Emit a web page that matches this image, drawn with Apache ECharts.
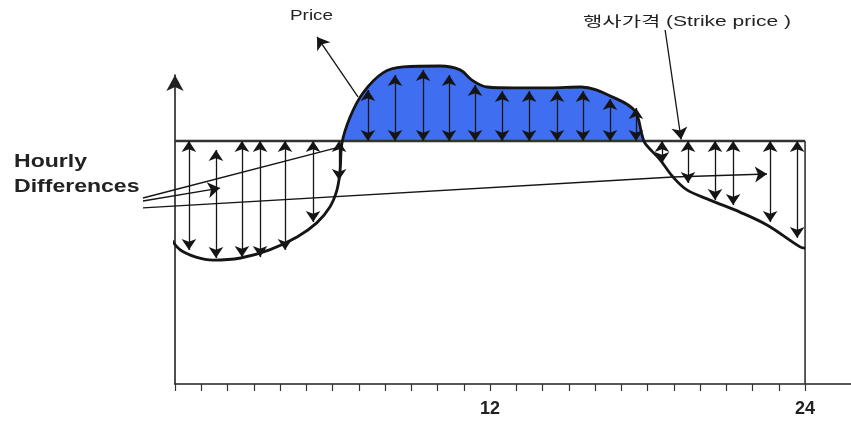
<!DOCTYPE html>
<html><head><meta charset="utf-8">
<script src="https://cdn.jsdelivr.net/npm/echarts@6/dist/echarts.min.js"></script>
<style>html,body{margin:0;padding:0;background:#fff}#c{width:851px;height:424px}</style>
</head><body><div id="c"></div>
<script>
// ---- data (hours on x, price level on y) ----
const hours = [-0.2, 0.2, 0.8, 1.45, 2.5, 3.6, 4.65, 5.4, 5.9, 6.17, 6.29, 6.36, 6.67, 7.16, 7.92, 8.69, 10.1, 10.86, 11.31, 11.89, 12.9, 14.3, 15.47, 16.76, 17.52, 17.79, 17.9, 18.48, 18.97, 19.5, 20.38, 21.52, 22.55, 23.81, 24];
const price = [49, 44.7, 42.3, 41.3, 42, 44.7, 49, 53.7, 59, 64.7, 71.3, 80.3, 89, 97, 103.7, 105.7, 106, 104.7, 101.3, 99, 98.7, 98.7, 99, 95.3, 91, 83, 80.3, 74.7, 69, 64.7, 61.3, 57.3, 53, 45.7, 45.3];
const strike = 81;
const tickHours = [0,1,2,3,4,5,6,7,8,9,10,11,12,13,14,15,16,17,18,19,20,21,22,23,24];
const labelHours = [12, 24];
// hourly difference arrows
const arrowHours = [0.53,1.56,2.55,3.24,4.19,5.26,6.25, 7.35,8.38,9.45,10.44,11.43,12.46,13.49,14.55,15.54,16.57,17.56, 18.55,19.54,20.57,21.26,22.67,23.7];
const arrowFrom  = [81,78,81,81,81,81,81, 81,81,81,81,81,81,81,81,81,81,81, 81,81,81,81,81,81];
const arrowTo    = [44.7,42,42.3,42.3,44.7,54,68, 98,103,104.7,103,99.7,97.7,97.7,97.7,97.7,95,92, 73.7,67,61.3,59.7,54,48.7];
// annotation pointers (data coordinates)
const pricePointer  = [[6.97, 95.7], [5.41, 115.7]];
const strikePointer = [[18.67, 118], [19.28, 81.5]];
const hourlyLine1 = [[-1.22, 61], [1.71, 65.3]];
const hourlyLine2 = [[-1.22, 62], [6.4, 79.3]];
const hourlyLine3a = [[-1.22, 58.7], [18.97, 69]];
const hourlyLine3b = [[18.97, 69], [22.55, 70]];

const pricePts = hours.map((h, i) => [h, price[i]]);
const abovePts = pricePts.filter(p => p[0] >= 6.36 && p[0] <= 17.9);
const arrowData = arrowHours.map((h, i) => ({coords: [[h, arrowFrom[i]], [h, arrowTo[i]]]}));

const ink = '#151515';
const chart = echarts.init(document.getElementById('c'), null, {renderer: 'canvas'});
const FONT = "'Liberation Sans', Arial, 'Noto Sans CJK KR', sans-serif";

chart.setOption({
  animation: false,
  backgroundColor: '#fff',
  grid: {left: 175, right: 0, top: 75, bottom: 40, outerBoundsMode: 'none'},
  xAxis: {
    type: 'value', min: 0, max: 25.75,
    splitLine: {show: false},
    axisLine: {show: true, lineStyle: {color: '#222', width: 1.6}},
    axisTick: {show: true, customValues: tickHours, length: 7, inside: false, lineStyle: {color: '#333', width: 1.2}},
    axisLabel: {show: true, customValues: labelHours, margin: 16, fontSize: 18, fontWeight: 'bold', color: '#222', fontFamily: FONT}
  },
  yAxis: {
    type: 'value', min: 0, max: 103,
    splitLine: {show: false},
    axisTick: {show: false},
    axisLabel: {show: false},
    axisLine: {show: true, symbol: ['none', 'arrow'], symbolSize: [13, 16], lineStyle: {color: '#222', width: 1.6}}
  },
  series: [
    {
      type: 'line', data: abovePts, smooth: 0.35, symbol: 'none', clip: false, z: 1,
      lineStyle: {width: 0},
      areaStyle: {origin: strike, color: '#3f6ff0', opacity: 1}
    },
    {
      type: 'line', data: [[0, strike], [24, strike]], symbol: 'none', z: 3,
      lineStyle: {color: '#333', width: 2.6}
    },
    {
      type: 'line', data: [[24, 0], [24, strike]], symbol: 'none', z: 3,
      lineStyle: {color: '#333', width: 1.6}
    },
    {
      type: 'lines', coordinateSystem: 'cartesian2d', clip: false, z: 4,
      symbol: ['arrow', 'arrow'], symbolSize: 11,
      lineStyle: {color: ink, width: 1.3, opacity: 1, curveness: 0},
      data: arrowData
    },
    {
      type: 'lines', coordinateSystem: 'cartesian2d', clip: false, z: 4,
      symbol: ['none', 'arrow'], symbolSize: 12,
      lineStyle: {color: ink, width: 1.3, opacity: 1, curveness: 0},
      data: [{coords: pricePointer}, {coords: strikePointer}, {coords: hourlyLine1}, {coords: hourlyLine3b}]
    },
    {
      type: 'lines', coordinateSystem: 'cartesian2d', clip: false, z: 4,
      symbol: ['none', 'none'],
      lineStyle: {color: ink, width: 1.3, opacity: 1, curveness: 0},
      data: [{coords: hourlyLine2}, {coords: hourlyLine3a}]
    },
    {
      type: 'line', data: pricePts, smooth: 0.35, symbol: 'none', clip: false, z: 5,
      lineStyle: {color: ink, width: 2.8}
    }
  ],
  graphic: [
    {type: 'text', x: 290, y: 9, scaleX: 1.35, style: {text: 'Price', x: 0, y: 0, font: '14px ' + FONT, fill: '#222', textAlign: 'left', textVerticalAlign: 'top'}},
    {type: 'text', x: 583, y: 15, scaleX: 1.5, style: {text: '행사가격 (Strike price )', x: 0, y: 0, font: '14px ' + FONT, fill: '#222', textAlign: 'left', textVerticalAlign: 'top'}},
    {type: 'text', x: 14, y: 153, scaleX: 1.28, style: {text: 'Hourly', x: 0, y: 0, font: 'bold 18px ' + FONT, fill: '#222', textAlign: 'left', textVerticalAlign: 'top'}},
    {type: 'text', x: 14, y: 178, scaleX: 1.28, style: {text: 'Differences', x: 0, y: 0, font: 'bold 18px ' + FONT, fill: '#222', textAlign: 'left', textVerticalAlign: 'top'}}
  ]
});
</script></body></html>
